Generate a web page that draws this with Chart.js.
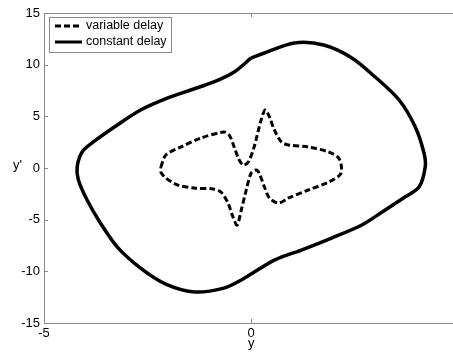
<!DOCTYPE html>
<html>
<head>
<meta charset="utf-8">
<script src="https://cdn.jsdelivr.net/npm/chart.js@4/dist/chart.umd.min.js"></script>
<style>
  html, body { margin: 0; padding: 0; background: #fff; overflow: hidden; }
  #wrap { position: relative; width: 453px; height: 352px; overflow: hidden; }
  #ylab { position: absolute; left: 13px; top: 157px; font: 13px "Liberation Sans", Arial, sans-serif; color: #000; }
</style>
</head>
<body>
<div id="wrap">
  <canvas id="phase" width="465" height="352"></canvas>
  <div id="ylab">y'</div>
</div>
<script>
// phase portrait: y vs y'
const seriesLabels = ['variable delay', 'constant delay'];

const xTicks = [-5, 0, 5];
const yTicks = [-15, -10, -5, 0, 5, 10, 15];

// constant delay (outer loop)
const constX = [0, 0.32, 1.04, 1.75, 2.43, 2.99, 3.57, 3.96, 4.17, 4.2, 4.05, 3.71, 3.16, 2.67, 1.94, 1.21, 0.56,
    -0.24, -0.66, -1.36, -2.06, -2.67, -3.23, -3.64, -3.96, -4.17, -4.2, -4.08, -3.81, -3.23, -2.67, -2.01, -1.46, -0.9, -0.41, 0];
const constY = [10.65, 11.13, 12.1, 11.9, 10.65, 8.81, 6.58, 3.97, 1.45, 0.1, -1.84, -2.81, -4.26, -5.52, -6.78, -7.94, -8.91,
    -10.84, -11.62, -12.0, -11.23, -9.68, -7.65, -5.32, -3.1, -1.16, 0.1, 1.55, 2.52, 4.16, 5.61, 6.78, 7.55, 8.33, 9.29, 10.65];

// variable delay (inner loop)
const varX = [-2.18, -2.06, -1.7, -1.21, -0.66, -0.53, -0.41, -0.29, -0.19, -0.07, 0.07, 0.24, 0.34, 0.44, 0.56, 0.73, 0.9,
    1.38, 1.87, 2.11, 2.18, 2.14, 1.87, 1.38, 0.9, 0.66, 0.44, 0.32, 0.19, 0.12, 0, -0.12, -0.24, -0.34, -0.44, -0.56,
    -0.73, -0.92, -1.38, -1.77, -2.06, -2.18, -2.18];
const varY = [0.1, 1.26, 2.03, 2.9, 3.48, 3.19, 2.03, 0.77, 0.29, 0.58, 2.03, 4.65, 5.61, 4.94, 3.68, 2.52, 2.23,
    2.03, 1.55, 0.97, 0, -0.68, -1.36, -2.13, -2.9, -3.39, -2.9, -1.84, -0.48, -0.19, -0.48, -2.13, -4.07, -5.52, -4.74, -3.39,
    -2.32, -2.03, -1.94, -1.65, -0.97, -0.39, 0.1];

const FONT = '"Liberation Sans", Arial, sans-serif';
const AXIS_GRAY = '#8a8a8a';

function toPoints(xs, ys) {
    return xs.map((x, i) => ({ x: x, y: ys[i] }));
}

// box + inward tick marks like matlab
const boxPlugin = {
    id: 'boxTicks',
    afterDatasetsDraw(chart) {
        const ctx = chart.ctx;
        const a = chart.chartArea;
        const sx = chart.scales.x;
        const sy = chart.scales.y;
        ctx.save();
        ctx.strokeStyle = AXIS_GRAY;
        ctx.lineWidth = 1;
        ctx.strokeRect(a.left + 0.5, a.top + 0.5, a.right - a.left - 1, a.bottom - a.top);
        ctx.beginPath();
        for (const t of sx.ticks) {
            const px = Math.round(sx.getPixelForValue(t.value)) + 0.5;
            ctx.moveTo(px, a.bottom); ctx.lineTo(px, a.bottom - 4);
            ctx.moveTo(px, a.top); ctx.lineTo(px, a.top + 4);
        }
        for (const t of sy.ticks) {
            const py = Math.round(sy.getPixelForValue(t.value)) + 0.5;
            ctx.moveTo(a.left, py); ctx.lineTo(a.left + 4, py);
            ctx.moveTo(a.right, py); ctx.lineTo(a.right - 4, py);
        }
        ctx.stroke();
        ctx.restore();
    }
};

// legend box in upper left corner
const legendPlugin = {
    id: 'cornerLegend',
    afterDraw(chart) {
        const ctx = chart.ctx;
        const a = chart.chartArea;
        const bx = a.left + 5, by = a.top + 4, bw = 122, bh = 35;
        ctx.save();
        ctx.fillStyle = '#fff';
        ctx.fillRect(bx, by, bw, bh);
        ctx.strokeStyle = AXIS_GRAY;
        ctx.lineWidth = 1;
        ctx.strokeRect(bx + 0.5, by + 0.5, bw, bh);
        chart.data.datasets.forEach((ds, i) => {
            const ly = by + 9 + i * 16;
            ctx.beginPath();
            ctx.strokeStyle = '#000';
            ctx.lineWidth = 3;
            ctx.setLineDash(ds.borderDash || []);
            ctx.moveTo(bx + 6, ly);
            ctx.lineTo(bx + 33, ly);
            ctx.stroke();
            ctx.setLineDash([]);
            ctx.fillStyle = '#000';
            ctx.font = '12.5px ' + FONT;
            ctx.textBaseline = 'middle';
            ctx.fillText(ds.label, bx + 37, ly);
        });
        ctx.restore();
    }
};

new Chart(document.getElementById('phase'), {
    type: 'scatter',
    data: {
        datasets: [
            {
                label: seriesLabels[0],
                data: toPoints(varX, varY),
                showLine: true,
                borderColor: '#000',
                borderWidth: 3,
                borderDash: [6, 3],
                pointRadius: 0,
                tension: 0.3,
                fill: false
            },
            {
                label: seriesLabels[1],
                data: toPoints(constX, constY),
                showLine: true,
                borderColor: '#000',
                borderWidth: 3.5,
                pointRadius: 0,
                tension: 0.3,
                fill: false
            }
        ]
    },
    options: {
        responsive: false,
        animation: false,
        layout: { padding: { top: 13, right: 0, left: 0, bottom: 0 } },
        plugins: {
            legend: { display: false },
            tooltip: { enabled: false }
        },
        scales: {
            x: {
                type: 'linear',
                min: xTicks[0],
                max: xTicks[xTicks.length - 1],
                afterBuildTicks: s => { s.ticks = xTicks.map(v => ({ value: v })); },
                afterFit: s => { s.height = 29; },
                grid: { display: false, drawTicks: false },
                border: { display: false },
                ticks: { color: '#000', padding: 3, maxRotation: 0, font: { family: FONT, size: 13 } },
                title: { display: true, text: 'y', color: '#000', padding: { top: 0, bottom: 1 }, font: { family: FONT, size: 13 } }
            },
            y: {
                type: 'linear',
                min: yTicks[0],
                max: yTicks[yTicks.length - 1],
                afterBuildTicks: s => { s.ticks = yTicks.map(v => ({ value: v })); },
                afterFit: s => { s.width = 44; },
                grid: { display: false, drawTicks: false },
                border: { display: false },
                ticks: { color: '#000', padding: 4, font: { family: FONT, size: 13 } }
            }
        }
    },
    plugins: [boxPlugin, legendPlugin]
});
</script>
</body>
</html>
